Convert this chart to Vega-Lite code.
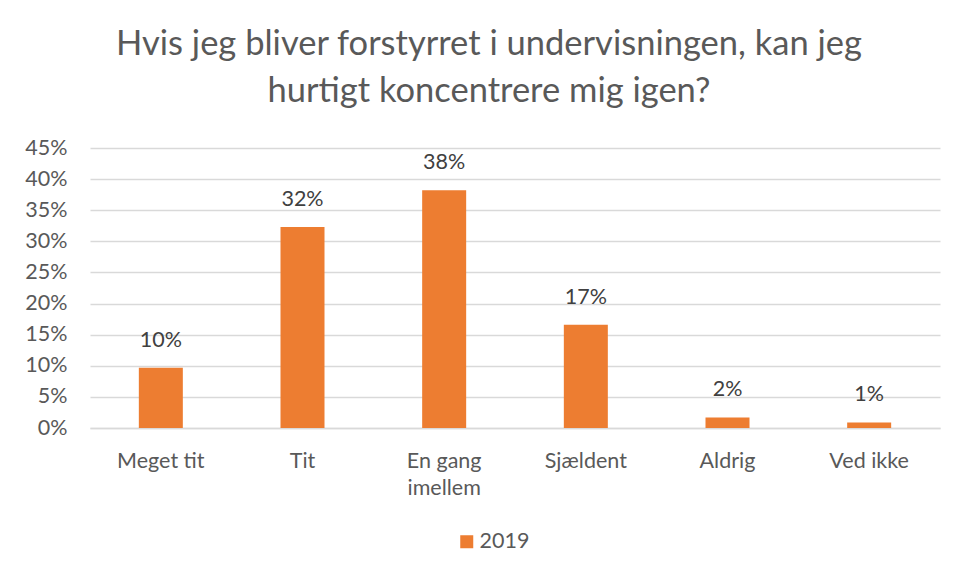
{
  "$schema": "https://vega.github.io/schema/vega-lite/v6.json",
  "width": 850,
  "height": 280,
  "padding": {"left": 24, "top": 26, "right": 10, "bottom": 10},
  "background": "white",
  "title": {
    "text": ["Hvis jeg bliver forstyrret i undervisningen, kan jeg", "hurtigt koncentrere mig igen?"],
    "font": "Lato",
    "fontSize": 34.5,
    "fontWeight": "normal",
    "color": "#595959",
    "lineHeight": 47,
    "anchor": "middle",
    "dx": -26,
    "offset": 28
  },
  "data": {
    "values": [
      {"svar": "Meget tit", "andel": 0.097, "serie": "2019"},
      {"svar": "Tit", "andel": 0.323, "serie": "2019"},
      {"svar": "En gang imellem", "andel": 0.382, "serie": "2019"},
      {"svar": "Sjældent", "andel": 0.166, "serie": "2019"},
      {"svar": "Aldrig", "andel": 0.017, "serie": "2019"},
      {"svar": "Ved ikke", "andel": 0.009, "serie": "2019"}
    ]
  },
  "encoding": {
    "x": {
      "field": "svar",
      "type": "nominal",
      "sort": null,
      "scale": {"paddingInner": 0, "paddingOuter": 0},
      "axis": {
        "title": null,
        "labelAngle": 0,
        "labelFont": "Lato",
        "labelFontSize": 21.5,
        "labelColor": "#595959",
        "labelPadding": 22,
        "labelLineHeight": 27,
        "labelExpr": "datum.label == 'En gang imellem' ? ['En gang', 'imellem'] : datum.label",
        "ticks": false,
        "domainColor": "#d9d9d9",
        "domainWidth": 1.5
      }
    },
    "y": {
      "field": "andel",
      "type": "quantitative",
      "scale": {"domain": [0, 0.45]},
      "axis": {
        "title": null,
        "format": ".0%",
        "values": [0, 0.05, 0.1, 0.15, 0.2, 0.25, 0.3, 0.35, 0.4, 0.45],
        "labelFont": "Lato",
        "labelFontSize": 21.5,
        "labelColor": "#595959",
        "labelPadding": 23,
        "ticks": false,
        "domain": false,
        "gridColor": "#d9d9d9",
        "gridWidth": 1.5
      }
    }
  },
  "layer": [
    {
      "mark": {"type": "bar", "size": 44},
      "encoding": {
        "color": {
          "field": "serie",
          "type": "nominal",
          "scale": {"range": ["#ED7D31"]},
          "legend": {
            "title": null,
            "orient": "none",
            "legendX": 366,
            "legendY": 383,
            "direction": "horizontal",
            "symbolType": "square",
            "symbolSize": 169,
            "symbolStrokeWidth": 0,
            "labelFont": "Lato",
            "labelFontSize": 21.5,
            "labelColor": "#595959",
            "labelOffset": 2
          }
        }
      }
    },
    {
      "mark": {"type": "text", "baseline": "bottom", "dy": -16, "font": "Lato", "fontSize": 21.5, "color": "#404040"},
      "encoding": {
        "text": {"field": "andel", "type": "quantitative", "format": ".0%"}
      }
    }
  ],
  "config": {
    "view": {"stroke": null}
  }
}
